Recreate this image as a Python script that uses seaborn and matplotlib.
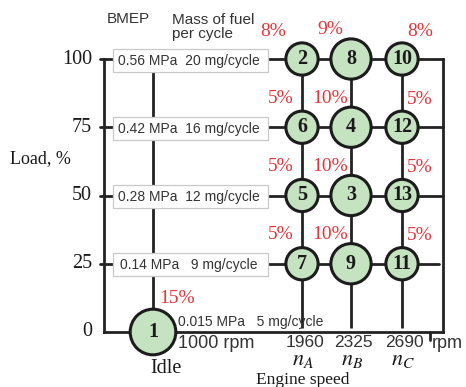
import numpy as np
import pandas as pd
import matplotlib
matplotlib.use("Agg")
import matplotlib.pyplot as plt
import seaborn as sns
from matplotlib.patches import Rectangle

# ---------------- data ----------------
modes = [1, 2, 3, 4, 5, 6, 7, 8, 9, 10, 11, 12, 13]
speed_rpm = [1000, 1960, 2325, 2325, 1960, 1960, 1960, 2325, 2325, 2690, 2690, 2690, 2690]
load_pct = [0, 100, 50, 75, 50, 75, 25, 100, 25, 100, 25, 75, 50]
weight_pct = [15, 8, 10, 10, 5, 5, 5, 9, 10, 8, 5, 5, 5]

load_levels = [100, 75, 50, 25]
load_tick_labels = ["100", "75", "50", "25", "0"]
bmep_labels = ["0.56 MPa", "0.42 MPa", "0.28 MPa", "0.14 MPa"]
fuel_labels = ["20 mg/cycle", "16 mg/cycle", "12 mg/cycle", "9 mg/cycle"]
idle_bmep = "0.015 MPa"
idle_fuel = "5 mg/cycle"
idle_rpm = 1000
speed_points = [1960, 2325, 2690]
speed_names = ["A", "B", "C"]

df = pd.DataFrame({"mode": modes, "speed": speed_rpm, "load": load_pct,
                   "weight": weight_pct})

# ---------------- style ----------------
sns.set_theme(style="white")
plt.rcParams["font.family"] = ["DejaVu Sans"]
plt.rcParams["mathtext.fontset"] = "stix"

W, H = 466, 387
fig = plt.figure(figsize=(W / 100, H / 100), dpi=100)
ax = fig.add_axes([0, 0, 1, 1])

# schematic (piecewise-linear) speed scale
R = np.array([1000.0, 1960.0, 2325.0, 2690.0])
P = np.array([153.0, 302.0, 351.0, 402.0])


def _pw(v, a, b):
    v = np.asarray(v, dtype=float)
    out = np.interp(v, a, b)
    out = np.where(v < a[0], b[0] + (v - a[0]) * (b[1] - b[0]) / (a[1] - a[0]), out)
    out = np.where(v > a[-1], b[-1] + (v - a[-1]) * (b[-1] - b[-2]) / (a[-1] - a[-2]), out)
    return out


def fwd(v):
    return _pw(v, R, P)


def inv(v):
    return _pw(v, P, R)


ax.set_xscale("function", functions=(fwd, inv))
ax.set_xlim(float(inv(0)), float(inv(W)))
# load: 0 -> y=332 px, 100 -> y=59 px
ppu = (332 - 59) / 100.0
ax.set_ylim(-(H - 332) / ppu, 100 + 59 / ppu)
ax.set_axis_off()

LC = "#232323"
LW = 2.0
fx = lambda px: px / W  # pixel -> axes fraction (layout only)
xt = ax.get_yaxis_transform()  # x in axes fraction, y in data

# frame
ax.plot([fx(104), fx(104)], [0, 100], color=LC, lw=LW, transform=xt, zorder=1,
        solid_capstyle="projecting")
ax.plot([fx(104), fx(443)], [0, 0], color=LC, lw=LW, transform=xt, zorder=1,
        solid_capstyle="projecting")
ax.plot([fx(443), fx(443)], [0, 100], color=LC, lw=LW, transform=xt, zorder=1,
        solid_capstyle="projecting")
ax.plot([fx(430), fx(430)], [0, -2.8], color=LC, lw=LW, transform=xt, zorder=1)

# load lines
for lv in load_levels:
    xe = 443 if lv != 25 else 439
    ax.plot([fx(100), fx(xe)], [lv, lv], color=LC, lw=LW, transform=xt, zorder=1)

# speed lines
ax.vlines(speed_points, 1.5, 100, color=LC, lw=LW, zorder=1)
ax.vlines([idle_rpm], 0, 100, color=LC, lw=LW, zorder=1)

# boxes with BMEP / fuel
for lv, b, f in zip(load_levels, bmep_labels, fuel_labels):
    h = 23 / ppu
    ax.add_patch(Rectangle((fx(113), lv - h / 2 - 0.4), fx(268) - fx(113), h,
                           transform=xt, facecolor="white", edgecolor="#c9c9c9",
                           lw=0.9, zorder=2))
    gap = "  " if len(f) > 10 else "   "
    ax.text(fx(189), lv - 0.6, b + gap + f, transform=xt, ha="center", va="center",
            fontsize=10, color="#333333", family="Liberation Sans", zorder=3)

# mode circles
sns.scatterplot(data=df, x="speed", y="load", size="weight",
                sizes={5: 540, 8: 540, 9: 840, 10: 840, 15: 1080},
                color="#c5e3c0", edgecolor="#1c1c1c", linewidth=2.2,
                legend=False, ax=ax, zorder=4)

for m, s, l in zip(modes, speed_rpm, load_pct):
    ax.annotate(str(m), (s, l), xytext=(0, 0), textcoords="offset points",
                ha="center", va="center", fontsize=14.5, fontweight="bold",
                family="Liberation Serif", color="#1a1a1a", zorder=5)

# weighting factors
RED = "#e4363c"
for m, s, l, w in zip(modes, speed_rpm, load_pct, weight_pct):
    if s == idle_rpm:
        off = (17, 24)
    elif s == speed_points[2]:
        off = (13, 20)
    elif s == speed_points[0] and l == 100:
        off = (-21, 20)
    else:
        off = (-15, 21)
    ax.annotate(f"{w}%", (s, l), xytext=off, textcoords="offset points",
                ha="center", va="center", fontsize=14, color=RED,
                family="Liberation Serif", zorder=5)

# y tick labels
for lv, t in zip(load_levels + [0], load_tick_labels):
    ax.text(fx(92), lv, t, transform=xt, ha="right", va="center", fontsize=14.5,
            family="Liberation Serif", color="#1a1a1a")
ax.text(fx(40), 100 - (159 - 59) / ppu, "Load, %", transform=xt, ha="center",
        va="center", fontsize=13, family="Liberation Serif", color="#1a1a1a")

# headers
ax.text(fx(107), 100 + (59 - 19) / ppu, "BMEP", transform=xt, ha="left", va="center",
        fontsize=11, family="Liberation Sans", color="#333333")
ax.text(fx(172), 100 + (59 - 27) / ppu, "Mass of fuel\nper cycle", transform=xt,
        ha="left", va="center", fontsize=11, family="Liberation Sans",
        color="#333333", linespacing=0.95)

# idle annotations
ax.annotate(idle_bmep + "   " + idle_fuel, (idle_rpm, 0), xytext=(18, 7.5),
            textcoords="offset points", ha="left", va="center", fontsize=10,
            family="Liberation Sans", color="#333333", zorder=5)
ax.annotate(f"{idle_rpm} rpm", (idle_rpm, 0), xytext=(18, -8),
            textcoords="offset points", ha="left", va="center", fontsize=13,
            family="Liberation Sans", color="#333333", zorder=5)
ax.annotate("Idle", (idle_rpm, 0), xytext=(9.5, -26), textcoords="offset points",
            ha="center", va="center", fontsize=14.5, family="Liberation Serif",
            color="#1a1a1a")

# speed labels
for sp, nm in zip(speed_points, speed_names):
    ax.annotate(str(sp), (sp, 0), xytext=(2, -7.5), textcoords="offset points",
                ha="center", va="center", fontsize=12.5, family="Liberation Sans",
                color="#333333", zorder=5)
    ax.annotate(rf"$n_{{{nm}}}$", (sp, 0), xytext=(1, -20), textcoords="offset points",
                ha="center", va="center", fontsize=16, color="#1a1a1a", zorder=5)
ax.text(fx(303), -(380.5 - 332) / ppu, "Engine speed", transform=xt, ha="center",
        va="center", fontsize=12.5, family="Liberation Serif", color="#1a1a1a")
ax.text(fx(447), -(343 - 332) / ppu, "rpm", transform=xt, ha="center", va="center",
        fontsize=13, family="Liberation Sans", color="#333333")

fig.savefig("out.png", dpi=100, facecolor="white")
